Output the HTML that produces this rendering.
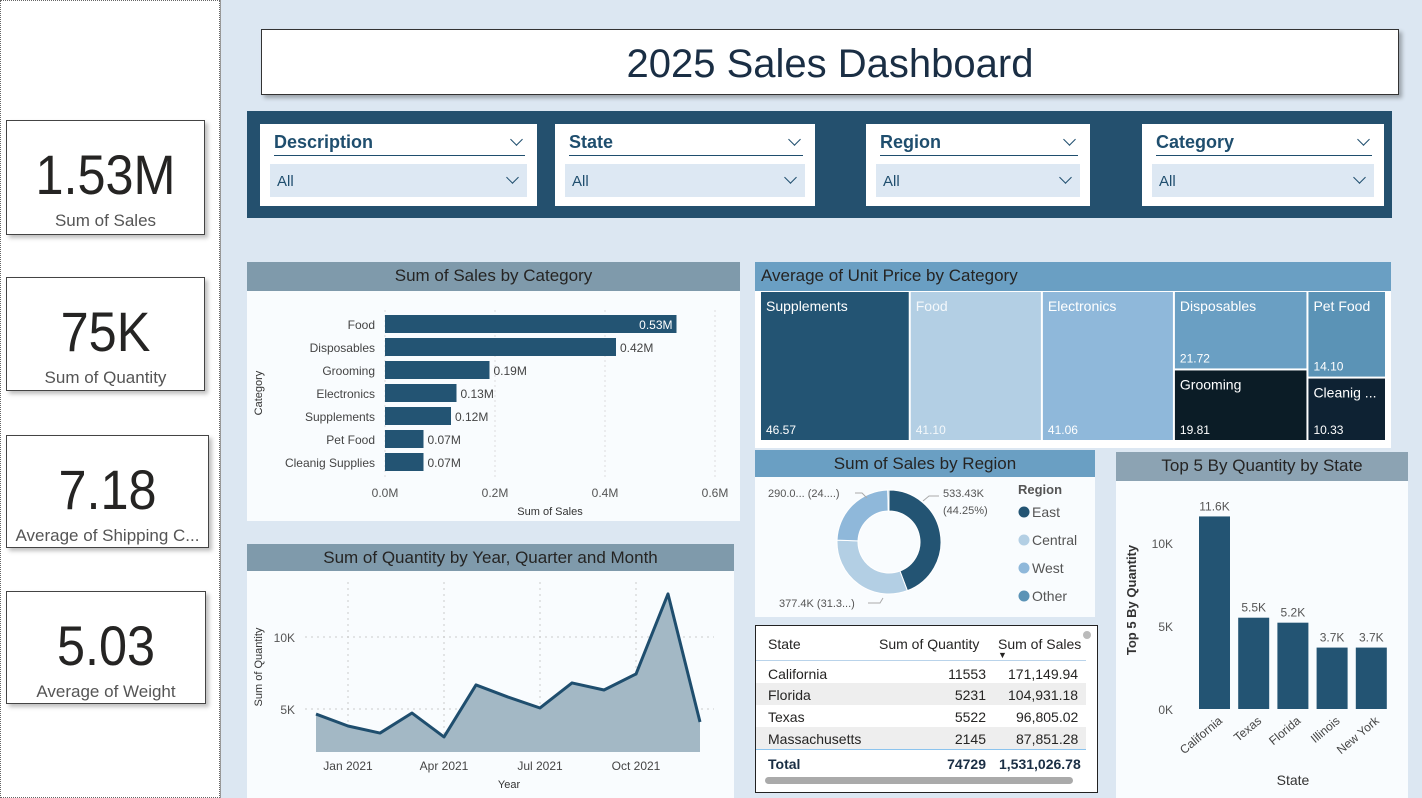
<!DOCTYPE html>
<html><head><meta charset="utf-8">
<style>
*{box-sizing:border-box;margin:0;padding:0}
body{width:1422px;height:798px;overflow:hidden;background:#fff;font-family:"Liberation Sans",sans-serif;position:relative;color:#252423}
.abs{position:absolute}
.kpi{position:absolute;background:#fff;border:1px solid #444;box-shadow:3px 3px 4px rgba(0,0,0,.25);text-align:center;overflow:hidden}
.kpi .v{font-size:56px;color:#252423;margin-top:24px;line-height:60px;transform:scaleX(.9)}
.kpi .l{font-size:17px;color:#555;white-space:nowrap;margin-top:6px}
.filt{position:absolute;top:124px;height:82px;background:#fff}
.filt .t{position:absolute;left:14px;top:8px;font-size:18px;font-weight:bold;color:#1f4e6e}
.filt .u{position:absolute;left:14px;right:12px;top:31px;border-top:1px solid #1f4e6e}
.filt .d{position:absolute;left:10px;right:10px;top:40px;height:33px;background:#dde8f3;font-size:15px;color:#1f4e6e;padding:9px 7px}
.chev{position:absolute;width:9px;height:9px;border-right:1.5px solid #1f4e6e;border-bottom:1.5px solid #1f4e6e;transform:rotate(45deg)}
.hdr{position:absolute;font-size:17px;color:#252423;text-align:center;line-height:28px}
.vis{position:absolute;background:#f9fcfe}
</style></head><body>
<div class="abs" style="left:220px;top:0;width:1202px;height:798px;background:#dce7f2;border-left:1px solid #999"></div>
<div class="abs" style="left:0;top:0;width:220px;height:798px;background:#fff;border:1px dotted #666"></div>

<div class="kpi" style="left:6px;top:120px;width:199px;height:115px"><div class="v">1.53M</div><div class="l">Sum of Sales</div></div>
<div class="kpi" style="left:6px;top:277px;width:199px;height:114px"><div class="v">75K</div><div class="l">Sum of Quantity</div></div>
<div class="kpi" style="left:6px;top:435px;width:203px;height:113px"><div class="v">7.18</div><div class="l">Average of Shipping C...</div></div>
<div class="kpi" style="left:6px;top:591px;width:200px;height:113px"><div class="v">5.03</div><div class="l">Average of Weight</div></div>

<div class="abs" style="left:261px;top:29px;width:1138px;height:66px;background:#fff;border:1px solid #333;box-shadow:3px 3px 4px rgba(0,0,0,.3);text-align:center;font-size:40px;line-height:68px;color:#1a2e44">2025 Sales Dashboard</div>

<div class="abs" style="left:247px;top:111px;width:1145px;height:107px;background:#24506e"></div>
<div class="filt" style="left:260px;width:277px"><div class="t">Description</div><div class="chev" style="right:16px;top:11px"></div><div class="u"></div><div class="d">All<div class="chev" style="right:10px;top:9px"></div></div></div>
<div class="filt" style="left:555px;width:260px"><div class="t">State</div><div class="chev" style="right:16px;top:11px"></div><div class="u"></div><div class="d">All<div class="chev" style="right:10px;top:9px"></div></div></div>
<div class="filt" style="left:866px;width:224px"><div class="t">Region</div><div class="chev" style="right:16px;top:11px"></div><div class="u"></div><div class="d">All<div class="chev" style="right:10px;top:9px"></div></div></div>
<div class="filt" style="left:1142px;width:242px"><div class="t">Category</div><div class="chev" style="right:16px;top:11px"></div><div class="u"></div><div class="d">All<div class="chev" style="right:10px;top:9px"></div></div></div>

<div class="vis" style="left:247px;top:262px;width:493px;height:259px"></div>
<div class="hdr" style="left:247px;top:262px;width:493px;height:29px;background:#7f9aab">Sum of Sales by Category</div>
<svg class="abs" id="barsvg" style="left:0;top:0" width="1422" height="798"></svg>

<div class="vis" style="left:247px;top:544px;width:487px;height:254px"></div>
<div class="hdr" style="left:247px;top:544px;width:487px;height:27px;background:#7f9aab">Sum of Quantity by Year, Quarter and Month</div>
<svg class="abs" id="areasvg" style="left:0;top:0" width="1422" height="798"></svg>

<div class="vis" style="left:755px;top:262px;width:636px;height:186px;background:#fff"></div>
<div class="hdr" style="left:755px;top:262px;width:636px;height:29px;background:#6a9fc3;text-align:left;padding-left:6px">Average of Unit Price by Category</div>
<svg class="abs" id="treesvg" style="left:0;top:0" width="1422" height="798"></svg>

<div class="vis" style="left:755px;top:450px;width:340px;height:167px"></div>
<div class="hdr" style="left:755px;top:450px;width:340px;height:27px;background:#6a9fc3">Sum of Sales by Region</div>
<svg class="abs" id="donutsvg" style="left:0;top:0" width="1422" height="798"></svg>

<div class="abs" style="left:755px;top:625px;width:343px;height:168px;background:#fff;border:1px solid #222;font-size:14px;overflow:hidden">
 <div style="position:absolute;left:0;top:0;width:330px;overflow:hidden;height:150px">
  <div style="height:35px;border-bottom:1px solid #b9d3ea;position:relative"><span style="position:absolute;left:12px;top:10px">State</span><span style="position:absolute;left:123px;top:10px">Sum of Quantity</span><span style="position:absolute;left:242px;top:10px">Sum of Sales</span><span style="position:absolute;left:242px;top:24px;font-size:9px">&#9660;</span></div>
  <div style="height:22px;position:relative"><span style="position:absolute;left:12px;top:5px">California</span><span style="position:absolute;right:100px;top:5px">11553</span><span style="position:absolute;left:252px;top:5px;white-space:nowrap">171,149.94</span></div>
  <div style="height:22px;position:relative;background:#eee"><span style="position:absolute;left:12px;top:4px">Florida</span><span style="position:absolute;right:100px;top:4px">5231</span><span style="position:absolute;left:252px;top:4px;white-space:nowrap">104,931.18</span></div>
  <div style="height:22px;position:relative"><span style="position:absolute;left:12px;top:4px">Texas</span><span style="position:absolute;right:100px;top:4px">5522</span><span style="position:absolute;left:260px;top:4px;white-space:nowrap">96,805.02</span></div>
  <div style="height:23px;position:relative;background:#eee;border-bottom:1px solid #8cc4ee"><span style="position:absolute;left:12px;top:4px">Massachusetts</span><span style="position:absolute;right:100px;top:4px">2145</span><span style="position:absolute;left:260px;top:4px;white-space:nowrap">87,851.28</span></div>
  <div style="height:24px;position:relative;font-weight:bold;color:#1a2e44"><span style="position:absolute;left:12px;top:6px">Total</span><span style="position:absolute;right:100px;top:6px">74729</span><span style="position:absolute;left:243px;top:6px;white-space:nowrap">1,531,026.78</span></div>
 </div>
 <div style="position:absolute;left:9px;top:151px;width:308px;height:7px;border-radius:4px;background:#aaa"></div>
 <div style="position:absolute;left:327px;top:5px;width:8px;height:8px;border-radius:4px;background:#bbb"></div>
</div>

<div class="vis" style="left:1116px;top:452px;width:292px;height:346px"></div>
<div class="hdr" style="left:1116px;top:452px;width:292px;height:29px;background:#8ca3b3">Top 5 By Quantity by State</div>
<svg class="abs" id="topsvg" style="left:0;top:0" width="1422" height="798"></svg>

<script>
const NS='http://www.w3.org/2000/svg';
function mk(svg,tag,attrs,txt){const e=document.createElementNS(NS,tag);for(const k in attrs)e.setAttribute(k,attrs[k]);if(txt!==undefined)e.textContent=txt;svg.appendChild(e);return e;}
const F='Liberation Sans, sans-serif';

const catNames=['Food','Disposables','Grooming','Electronics','Supplements','Pet Food','Cleanig Supplies'];
const catSales=[0.53,0.42,0.19,0.13,0.12,0.07,0.07];
const catTicks=[0,0.2,0.4,0.6];
(function(){
 const s=document.getElementById('barsvg');
 const x=v=>385+v*550, y=i=>315+i*23;
 catTicks.forEach(t=>{
  const g=mk(s,'line',{x1:x(t),x2:x(t),y1:310,y2:478,stroke:'#ddd','stroke-dasharray':'2,3'});
  
  const l=mk(s,'text',{x:x(t),y:497,'font-size':12,fill:'#555','text-anchor':'middle','font-family':F},t.toFixed(1)+'M');
  
 });
 catNames.forEach((n,i)=>{
  const r=mk(s,'rect',{x:x(0),y:y(i),width:x(catSales[i])-x(0),height:18,fill:'#235473'});
  
  const l=mk(s,'text',{x:375,y:y(i)+14,'font-size':12,fill:'#444','text-anchor':'end','font-family':F},n);
  
  const inside=i===0;
  const v=mk(s,'text',{x:inside?x(catSales[i])-4:x(catSales[i])+4,y:y(i)+14,'font-size':12,fill:inside?'#fff':'#444','text-anchor':inside?'end':'start','font-family':F},catSales[i].toFixed(2)+'M');
  
 });
 const xt=mk(s,'text',{x:550,y:515,'font-size':11,fill:'#333','text-anchor':'middle','font-family':F},'Sum of Sales');
 
 const yt=mk(s,'text',{x:262,y:393,'font-size':11,fill:'#333','text-anchor':'middle','font-family':F,transform:'rotate(-90 262 393)'},'Category');
 
})();

const months=['Dec 2020','Jan 2021','Feb 2021','Mar 2021','Apr 2021','May 2021','Jun 2021','Jul 2021','Aug 2021','Sep 2021','Oct 2021','Nov 2021','Dec 2021'];
const qty=[4650,3820,3330,4720,3060,6670,5830,5070,6810,6320,7430,12990,4100];
const qTicks=[5000,10000];
const qTickLabels=['5K','10K'];
const xLabelIdx=[1,4,7,10];
(function(){
 const s=document.getElementById('areasvg');
 const x=i=>316+i*32, y=v=>781-v*72/5000, base=752;
 qTicks.forEach((t,i)=>{
  mk(s,'line',{x1:305,x2:714,y1:y(t),y2:y(t),stroke:'#ccc','stroke-dasharray':'2,4'});
  const l=mk(s,'text',{x:295,y:y(t)+5,'font-size':12,fill:'#555','text-anchor':'end','font-family':F},qTickLabels[i]);
  
 });
 xLabelIdx.forEach(i=>{
  mk(s,'line',{x1:x(i),x2:x(i),y1:582,y2:752,stroke:'#ccc','stroke-dasharray':'2,4'});
  const l=mk(s,'text',{x:x(i),y:770,'font-size':12,fill:'#444','text-anchor':'middle','font-family':F},months[i]);
  
 });
 let d='M'+x(0)+','+base;qty.forEach((v,i)=>d+=' L'+x(i)+','+y(v));d+=' L'+x(qty.length-1)+','+base+' Z';
 const a=mk(s,'path',{d:d,fill:'#a3b8c5'});
 const p=mk(s,'polyline',{points:qty.map((v,i)=>x(i)+','+y(v)).join(' '),fill:'none',stroke:'#1f4e6e','stroke-width':3,'stroke-linejoin':'round'});
 
 const xt=mk(s,'text',{x:509,y:788,'font-size':11,fill:'#333','text-anchor':'middle','font-family':F},'Year');
 
 const yt=mk(s,'text',{x:262,y:667,'font-size':11,fill:'#333','text-anchor':'middle','font-family':F,transform:'rotate(-90 262 667)'},'Sum of Quantity');
 
})();

const tmNames=['Supplements','Food','Electronics','Disposables','Grooming','Pet Food','Cleanig ...'];
const tmValues=[46.57,41.10,41.06,21.72,19.81,14.10,10.33];
const tmColumns=[[0],[1],[2],[3,4],[5,6]];
const tmColors=['#235473','#b3cfe4','#8fb8da','#6a9fc3','#0b1c26','#5b93b6','#0e2233'];
(function(){
 const s=document.getElementById('treesvg');
 const X0=761,X1=1387,Y0=292,Y1=442;
 const total=tmValues.reduce((a,b)=>a+b,0);
 let cx=X0;
 tmColumns.forEach(col=>{
  const cs=col.reduce((a,i)=>a+tmValues[i],0);
  const w=(X1-X0)*cs/total;let cy=Y0;
  col.forEach(i=>{
   const h=(Y1-Y0)*tmValues[i]/cs;
   const r=mk(s,'rect',{x:cx,y:cy,width:w-2,height:h-2,fill:tmColors[i]});
   
   const tc=(i===1)?'#f4f8fb':'#fff';
   const l=mk(s,'text',{x:cx+5,y:cy+19,'font-size':14,fill:tc,'font-family':F},tmNames[i]);
   
   const v=mk(s,'text',{x:cx+5,y:cy+h-8,'font-size':12,fill:tc,'font-family':F},tmValues[i].toFixed(2));
   
   cy+=h;
  });
  cx+=w;
 });
})();

const regions=['East','Central','West','Other'];
const regionSales=[533.43,377.4,290.0,4.6];
const regionColors=['#235473','#b3cfe4','#8fb8da','#5b93b6'];
(function(){
 const s=document.getElementById('donutsvg');
 const cx=889,cy=542,R=52,r=31;
 const tot=regionSales.reduce((a,b)=>a+b,0);let a0=-Math.PI/2;
 regionSales.forEach((v,i)=>{
  const a1=a0+v/tot*2*Math.PI,lg=(a1-a0)>Math.PI?1:0;
  const p=(rr,a)=>(cx+rr*Math.cos(a))+','+(cy+rr*Math.sin(a));
  const d='M'+p(R,a0)+' A'+R+','+R+' 0 '+lg+' 1 '+p(R,a1)+' L'+p(r,a1)+' A'+r+','+r+' 0 '+lg+' 0 '+p(r,a0)+' Z';
  const e=mk(s,'path',{d:d,fill:regionColors[i],stroke:'#fff','stroke-width':1});
  
  a0=a1;
 });
 const labs=[['533.43K',943,497],['(44.25%)',943,514],['290.0... (24....)',768,497],['377.4K (31.3...)',779,607]];
 labs.forEach(t=>{const e=mk(s,'text',{x:t[1],y:t[2],'font-size':11,fill:'#555','font-family':F},t[0]);});
 mk(s,'polyline',{points:'923,501 929,496 939,496',fill:'none',stroke:'#aaa'});
 mk(s,'polyline',{points:'855,493 862,493 867,498',fill:'none',stroke:'#aaa'});
 mk(s,'polyline',{points:'868,603 880,603 883,598',fill:'none',stroke:'#aaa'});
 const lt=mk(s,'text',{x:1018,y:494,'font-size':13,'font-weight':'bold',fill:'#555','font-family':F},'Region');
 
 regions.forEach((n,i)=>{
  const yy=512+i*28;
  const c=mk(s,'circle',{cx:1024,cy:yy,r:5.5,fill:regionColors[i]});
  
  const t=mk(s,'text',{x:1032,y:yy+5,'font-size':14,fill:'#555','font-family':F},n);
  
 });
})();

const states=['California','Texas','Florida','Illinois','New York'];
const stateQty=[11.6,5.5,5.2,3.7,3.7];
const topTicks=[0,5,10];
const topTickLabels=['0K','5K','10K'];
(function(){
 const s=document.getElementById('topsvg');
 const y=v=>709-v*16.6, x=i=>1199+i*39.2;
 topTicks.forEach((t,i)=>{
  const l=mk(s,'text',{x:1173,y:y(t)+5,'font-size':12,fill:'#555','text-anchor':'end','font-family':F},topTickLabels[i]);
  
 });
 states.forEach((n,i)=>{
  const r=mk(s,'rect',{x:x(i),y:y(stateQty[i]),width:31,height:y(0)-y(stateQty[i]),fill:'#235473'});
  
  const v=mk(s,'text',{x:x(i)+15.5,y:y(stateQty[i])-6,'font-size':12,fill:'#555','text-anchor':'middle','font-family':F},stateQty[i].toFixed(1)+'K');
  
  const l=mk(s,'text',{x:x(i)+24,y:722,'font-size':12,fill:'#444','text-anchor':'end','font-family':F,transform:'rotate(-40 '+(x(i)+24)+' 722)'},n);
  
 });
 const xt=mk(s,'text',{x:1293,y:785,'font-size':14,fill:'#333','text-anchor':'middle','font-family':F},'State');
 
 const yt=mk(s,'text',{x:1136,y:600,'font-size':13,'font-weight':'bold',fill:'#333','text-anchor':'middle','font-family':F,transform:'rotate(-90 1136 600)'},'Top 5 By Quantity');
 
})();
</script>
</body></html>
